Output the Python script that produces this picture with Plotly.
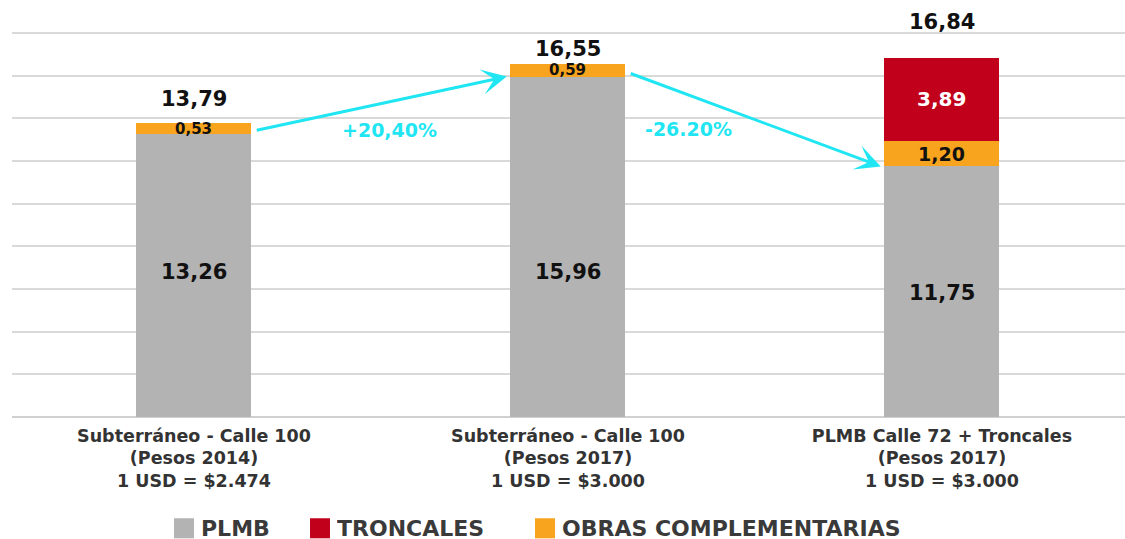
import plotly.graph_objects as go

# Costs per scenario (billions of pesos)
categories = [
    "Subterráneo - Calle 100<br>(Pesos 2014)<br>1 USD = $2.474",
    "Subterráneo - Calle 100<br>(Pesos 2017)<br>1 USD = $3.000",
    "PLMB Calle 72 + Troncales<br>(Pesos 2017)<br>1 USD = $3.000",
]
plmb = [13.26, 15.96, 11.75]
obras = [0.53, 0.59, 1.20]
troncales = [0.0, 0.0, 3.89]
totals = [13.79, 16.55, 16.84]
changes = ["+20,40%", "-26.20%"]

series_names = ["PLMB", "TRONCALES", "OBRAS COMPLEMENTARIAS"]

GRAY = "#B3B3B3"
RED = "#C1001B"
ORANGE = "#F9A41E"
CYAN = "#1FE6F2"
FONT = "DejaVu Sans"

x = list(range(len(categories)))
BAR_W = 0.3075

fig = go.Figure()
fig.add_trace(go.Bar(x=x, y=plmb, width=BAR_W, marker=dict(color=GRAY, line_width=0),
                     name=series_names[0], hoverinfo="skip"))
fig.add_trace(go.Bar(x=x, y=obras, width=BAR_W, marker=dict(color=ORANGE, line_width=0),
                     name=series_names[2], hoverinfo="skip"))
fig.add_trace(go.Bar(x=x, y=troncales, width=BAR_W, marker=dict(color=RED, line_width=0),
                     name=series_names[1], hoverinfo="skip"))

ann = []


def fmt(v):
    return f"{v:.2f}".replace(".", ",")


# segment labels
plmb_label_at = [6.8, 6.8, 5.8]
for i in x:
    ann.append(dict(x=i, y=plmb_label_at[i], text=fmt(plmb[i]), showarrow=False,
                    font=dict(family=FONT, size=21, color="#111111", weight="bold")))
    if obras[i] > 0:
        size = 15 if obras[i] < 1 else 19
        ann.append(dict(x=i, y=plmb[i] + obras[i] / 2, text=fmt(obras[i]), showarrow=False,
                        font=dict(family=FONT, size=size, color="#111111", weight="bold")))
    if troncales[i] > 0:
        ann.append(dict(x=i, y=plmb[i] + obras[i] + troncales[i] / 2, text=fmt(troncales[i]),
                        showarrow=False,
                        font=dict(family=FONT, size=20, color="#FFFFFF", weight="bold")))

# totals above the stacks
total_shift = [24, 15, 36]
for i in x:
    ann.append(dict(x=i, y=totals[i], text=fmt(totals[i]), showarrow=False,
                    yshift=total_shift[i], yanchor="middle",
                    font=dict(family=FONT, size=21, color="#111111", weight="bold")))

# arrows between scenarios
for i in range(len(x) - 1):
    ann.append(dict(x=x[i + 1] - BAR_W / 2 - 0.01, y=plmb[i + 1],
                    ax=x[i] + BAR_W / 2 + 0.01, ay=plmb[i] + 0.17,
                    xref="x", yref="y", axref="x", ayref="y",
                    showarrow=True, arrowhead=3, arrowsize=1.4, arrowwidth=3,
                    arrowcolor=CYAN, text=""))

change_pos = [(0.524, 13.45), (1.321, 13.5)]
for (cx, cy), t in zip(change_pos, changes):
    ann.append(dict(x=cx, y=cy, text=t, showarrow=False,
                    font=dict(family=FONT, size=19, color=CYAN, weight="bold")))

# legend drawn as squares + text below the axis
PLOT_L, PLOT_W = 12, 1113
PLOT_B, PLOT_H = 417, 384


def px(xp):
    return (xp - PLOT_L) / PLOT_W


def py(yp):
    return (PLOT_B - yp) / PLOT_H


legend_items = [(GRAY, series_names[0], 174), (RED, series_names[1], 310),
                (ORANGE, series_names[2], 535)]
shapes = []
for color, name, x0 in legend_items:
    shapes.append(dict(type="rect", xref="paper", yref="paper",
                       x0=px(x0), x1=px(x0 + 20), y0=py(538), y1=py(518),
                       fillcolor=color, line_width=0))
    ann.append(dict(xref="paper", yref="paper", x=px(x0 + 26), y=py(528),
                    xanchor="left", yanchor="middle", text=name, showarrow=False,
                    height=24, valign="middle", borderpad=0,
                    font=dict(family=FONT, size=22, color="#3A3A3A", weight="bold")))

fig.update_layout(
    width=1125, height=539,
    margin=dict(l=PLOT_L, r=0, t=32, b=122),
    barmode="stack",
    showlegend=False,
    plot_bgcolor="white", paper_bgcolor="white",
    font=dict(family=FONT),
    annotations=ann,
    shapes=shapes,
    xaxis=dict(range=[-0.4866, 2.4894], tickvals=x, ticktext=categories,
               showgrid=False, zeroline=False, showline=False, ticks="",
               ticklabelstandoff=6,
               tickfont=dict(family=FONT, size=17.5, color="#333333", weight="bold"),
               fixedrange=True),
    yaxis=dict(range=[0, 18.05], dtick=2, showticklabels=False, ticks="",
               showgrid=True, gridcolor="#D9D9D9", gridwidth=1.5,
               zeroline=True, zerolinecolor="#D0D0D0", zerolinewidth=2,
               showline=False, fixedrange=True),
)

fig.write_html("out.html")
